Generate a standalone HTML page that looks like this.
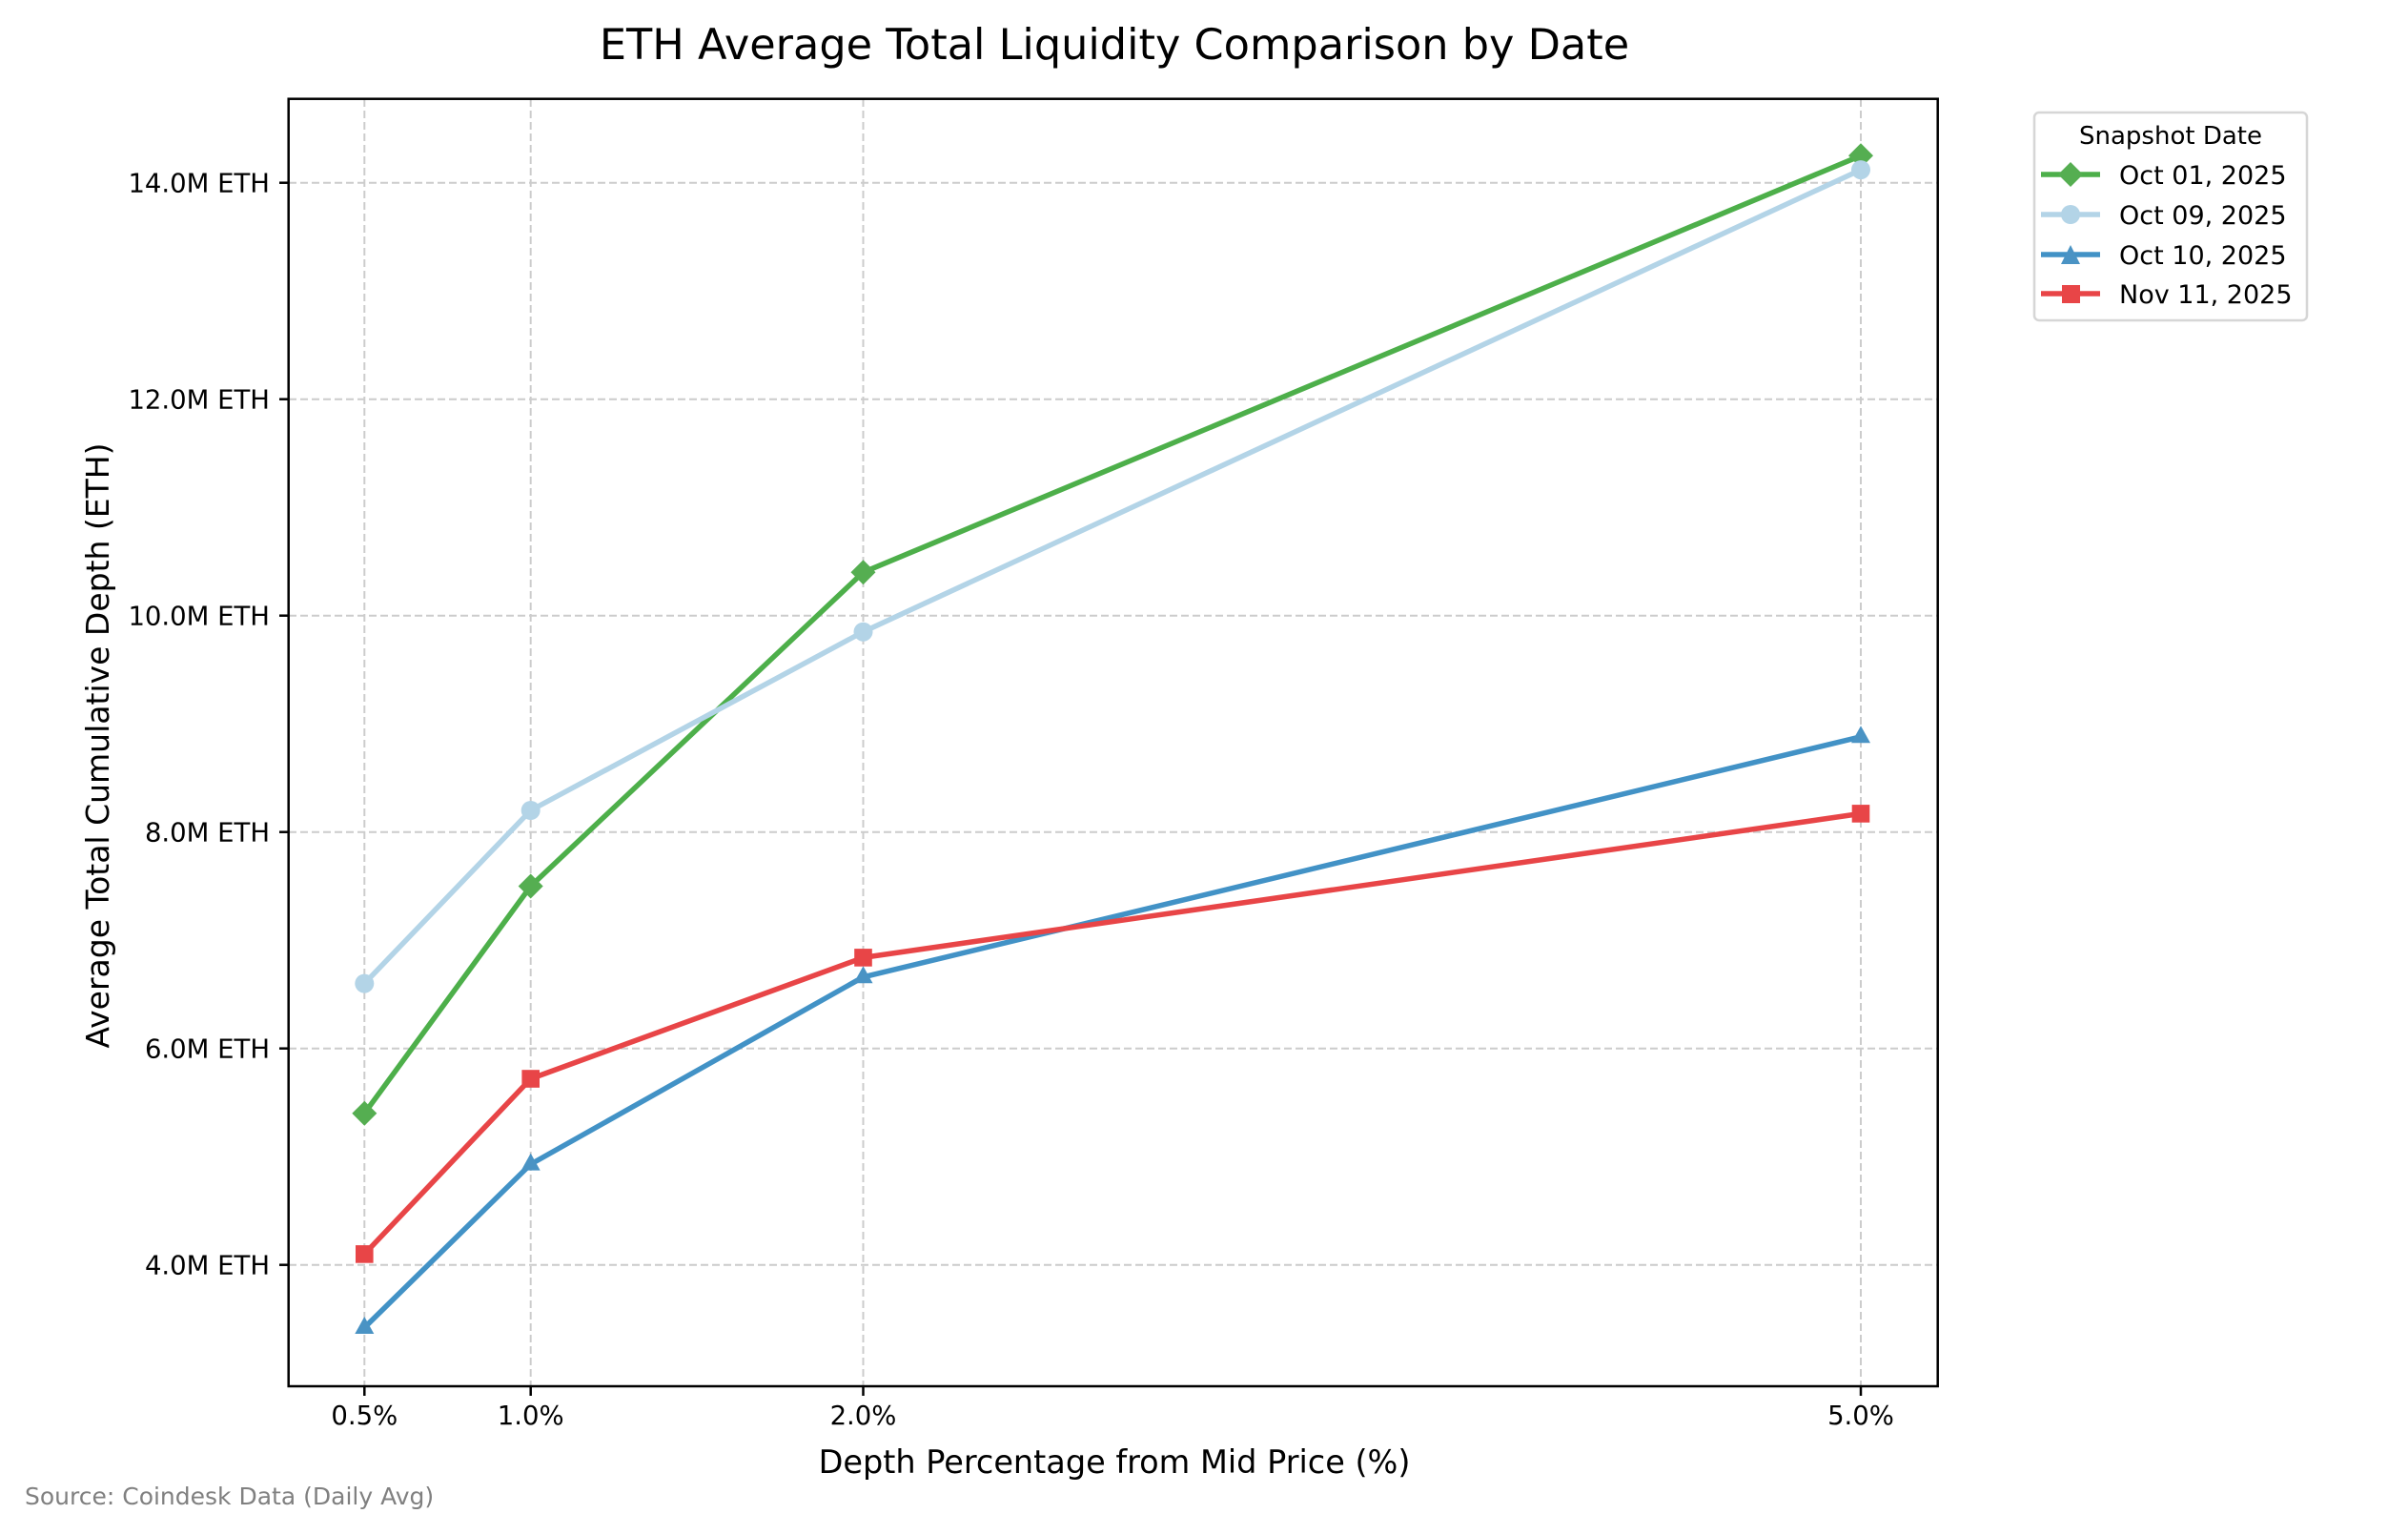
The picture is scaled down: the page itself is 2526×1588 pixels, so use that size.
<!DOCTYPE html>
<html><head><meta charset="utf-8"><style>
html,body{margin:0;padding:0;background:#fff;}
svg{display:block;font-family:"DejaVu Sans","Liberation Sans",sans-serif;}
</style></head><body>
<svg width="2526" height="1588" viewBox="0 0 2526 1588" xmlns="http://www.w3.org/2000/svg">
<rect width="2526" height="1588" fill="#fff"/>
<text x="1169" y="62" font-size="44.6" text-anchor="middle" fill="#000">ETH Average Total Liquidity Comparison by Date</text>
<g stroke="#cccccc" stroke-width="2" stroke-dasharray="8,4" fill="none">
<line x1="382.3" y1="104" x2="382.3" y2="1454"/>
<line x1="556.7" y1="104" x2="556.7" y2="1454"/>
<line x1="905.5" y1="104" x2="905.5" y2="1454"/>
<line x1="1952" y1="104" x2="1952" y2="1454"/>
<line x1="303" y1="191.7" x2="2033" y2="191.7"/>
<line x1="303" y1="418.7" x2="2033" y2="418.7"/>
<line x1="303" y1="645.7" x2="2033" y2="645.7"/>
<line x1="303" y1="872.7" x2="2033" y2="872.7"/>
<line x1="303" y1="1099.7" x2="2033" y2="1099.7"/>
<line x1="303" y1="1326.7" x2="2033" y2="1326.7"/>
</g>
<g stroke-width="5.5" fill="none" stroke-linejoin="round">
<polyline stroke="#4daf4a" points="382.3,1167.8 556.7,929.5 905.5,600.3 1952,163.3"/>
<polyline stroke="#b3d4e7" points="382.3,1031.6 556.7,850 905.5,662.7 1952,178.1"/>
<polyline stroke="#4292c6" points="382.3,1392.5 556.7,1221.1 905.5,1024.8 1952,772.8"/>
<polyline stroke="#e84547" points="382.3,1315.4 556.7,1131.5 905.5,1004.4 1952,853.4"/>
</g>
<g fill="#55ae51">
<polygon points="382.3,1154.8 395.3,1167.8 382.3,1180.8 369.3,1167.8"/>
<polygon points="556.7,916.5 569.7,929.5 556.7,942.5 543.7,929.5"/>
<polygon points="905.5,587.3 918.5,600.3 905.5,613.3 892.5,600.3"/>
<polygon points="1952,150.3 1965,163.3 1952,176.3 1939,163.3"/>
</g>
<g fill="#b3d4e7">
<circle cx="382.3" cy="1031.6" r="10"/><circle cx="556.7" cy="850" r="10"/><circle cx="905.5" cy="662.7" r="10"/><circle cx="1952" cy="178.1" r="10"/>
</g>
<g fill="#4a93c4">
<polygon points="382.3,1381 392.3,1399 372.3,1399"/>
<polygon points="556.7,1209.6 566.7,1227.6 546.7,1227.6"/>
<polygon points="905.5,1013.3 915.5,1031.3 895.5,1031.3"/>
<polygon points="1952,761.3 1962,779.3 1942,779.3"/>
</g>
<g fill="#e84547">
<rect x="373" y="1306.1" width="18.6" height="18.6"/>
<rect x="547.4" y="1122.2" width="18.6" height="18.6"/>
<rect x="896.2" y="995.1" width="18.6" height="18.6"/>
<rect x="1942.7" y="844.1" width="18.6" height="18.6"/>
</g>
<rect x="302.7" y="103.7" width="1730" height="1350.3" fill="none" stroke="#000" stroke-width="2.5"/>
<g stroke="#000" stroke-width="2.5">
<line x1="293" y1="191.7" x2="302" y2="191.7"/><line x1="293" y1="418.7" x2="302" y2="418.7"/><line x1="293" y1="645.7" x2="302" y2="645.7"/><line x1="293" y1="872.7" x2="302" y2="872.7"/><line x1="293" y1="1099.7" x2="302" y2="1099.7"/><line x1="293" y1="1326.7" x2="302" y2="1326.7"/>
<line x1="382.3" y1="1455" x2="382.3" y2="1464"/><line x1="556.7" y1="1455" x2="556.7" y2="1464"/><line x1="905.5" y1="1455" x2="905.5" y2="1464"/><line x1="1952" y1="1455" x2="1952" y2="1464"/>
</g>
<g font-size="27.5" fill="#000" text-anchor="end">
<text x="283" y="201.5">14.0M ETH</text>
<text x="283" y="428.5">12.0M ETH</text>
<text x="283" y="655.5">10.0M ETH</text>
<text x="283" y="882.5">8.0M ETH</text>
<text x="283" y="1109.5">6.0M ETH</text>
<text x="283" y="1336.5">4.0M ETH</text>
</g>
<g font-size="27.5" fill="#000" text-anchor="middle">
<text x="382.3" y="1494">0.5%</text>
<text x="556.7" y="1494">1.0%</text>
<text x="905.5" y="1494">2.0%</text>
<text x="1952" y="1494">5.0%</text>
</g>
<text x="1169" y="1545" font-size="33.5" text-anchor="middle" fill="#000">Depth Percentage from Mid Price (%)</text>
<text transform="translate(114,782) rotate(-90)" font-size="33" text-anchor="middle" fill="#000">Average Total Cumulative Depth (ETH)</text>
<text x="26" y="1578" font-size="25" fill="#808080">Source: Coindesk Data (Daily Avg)</text>
<rect x="2134" y="118" width="286" height="218" rx="5" fill="#fff" stroke="#d6d6d6" stroke-width="2.5"/>
<text x="2277" y="151" font-size="26" text-anchor="middle" fill="#000">Snapshot Date</text>
<g stroke-width="5.5">
<line x1="2141" y1="183" x2="2203" y2="183" stroke="#4daf4a"/>
<line x1="2141" y1="225" x2="2203" y2="225" stroke="#b3d4e7"/>
<line x1="2141" y1="267" x2="2203" y2="267" stroke="#4292c6"/>
<line x1="2141" y1="308" x2="2203" y2="308" stroke="#e84547"/>
</g>
<polygon points="2172,170 2185,183 2172,196 2159,183" fill="#55ae51"/>
<circle cx="2172" cy="225" r="10" fill="#b3d4e7"/>
<polygon points="2172,257 2182,277 2162,277" fill="#4a93c4"/>
<rect x="2163" y="299" width="19" height="19" fill="#e84547"/>
<g font-size="27" fill="#000">
<text x="2223" y="193">Oct 01, 2025</text>
<text x="2223" y="235">Oct 09, 2025</text>
<text x="2223" y="277">Oct 10, 2025</text>
<text x="2223" y="318">Nov 11, 2025</text>
</g>
</svg>
</body></html>
